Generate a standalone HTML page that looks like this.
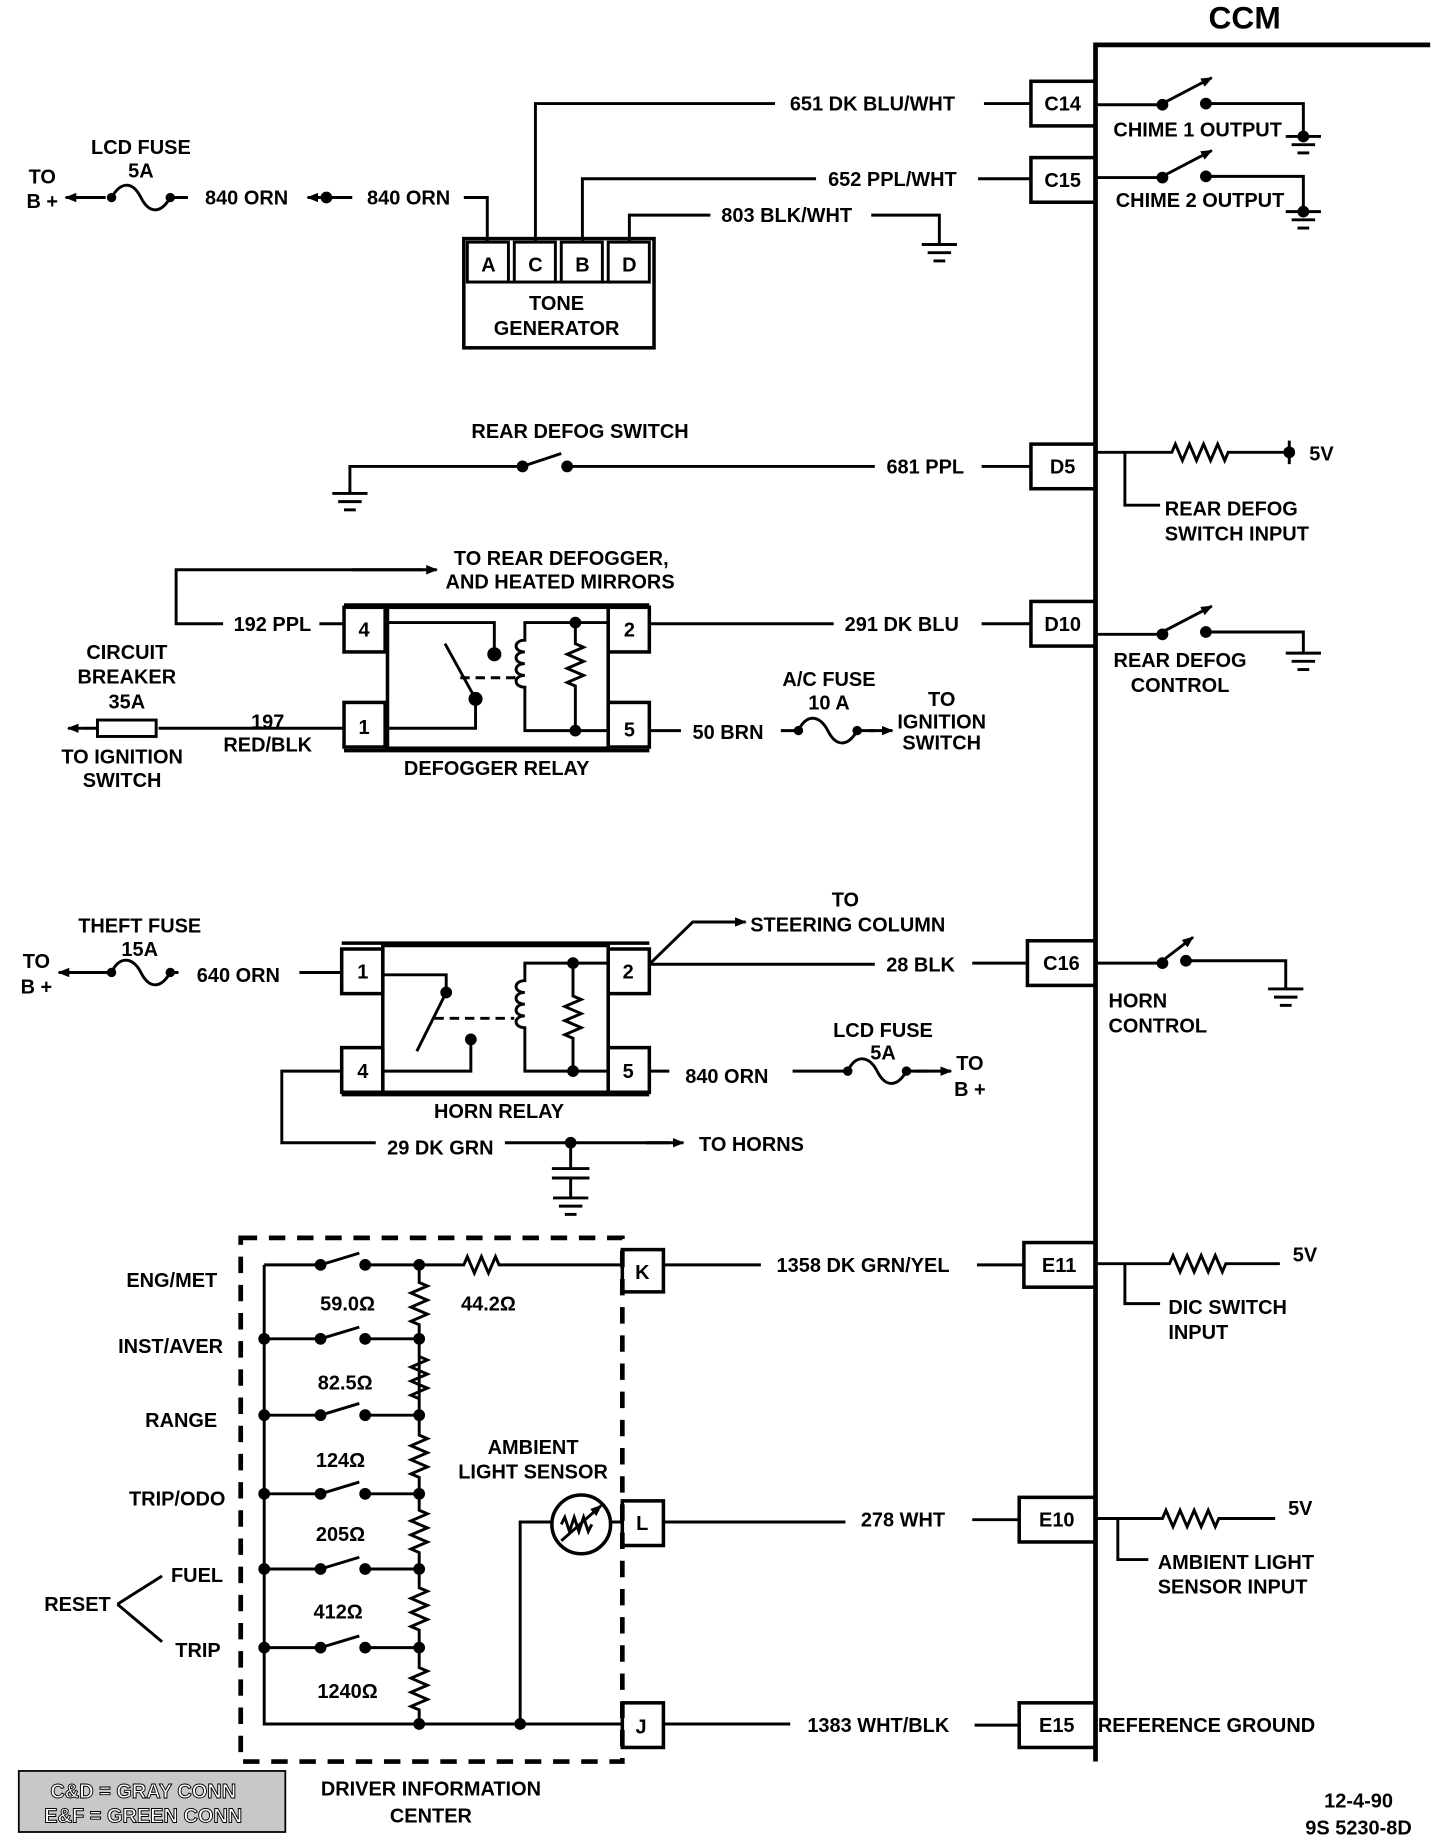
<!DOCTYPE html>
<html><head><meta charset="utf-8"><style>
html,body{margin:0;padding:0;background:#fff}
svg{display:block}
text{font-family:"Liberation Sans",sans-serif;font-weight:bold;font-size:17px;fill:#000}
.c{text-anchor:middle}.r{text-anchor:end}
</style></head><body>
<svg width="1456" height="1844" viewBox="0 0 1240 1570" xmlns="http://www.w3.org/2000/svg">
<defs>
<g id="gnd"><line x1="-15" y1="0" x2="15" y2="0" stroke="#000" stroke-width="2.5"/><line x1="-10" y1="7" x2="10" y2="7" stroke="#000" stroke-width="2.5"/><line x1="-5" y1="14" x2="5" y2="14" stroke="#000" stroke-width="2.5"/></g>
<marker id="ar" markerWidth="10" markerHeight="8" refX="9" refY="4" orient="auto" markerUnits="userSpaceOnUse"><path d="M0,0 L10,4 L0,8 z" fill="#000"/></marker>
</defs>
<g stroke="#000" stroke-width="2.5" fill="none">
<path d="M933,1500 V38 H1218" stroke-width="4"/>
<rect x="878" y="69" width="55" height="38" stroke-width="3"/>
<rect x="878" y="134" width="55" height="38" stroke-width="3"/>
<rect x="878" y="378" width="55" height="38" stroke-width="3"/>
<rect x="878" y="512" width="55" height="38" stroke-width="3"/>
<rect x="875" y="801" width="58" height="38" stroke-width="3"/>
<rect x="872" y="1058" width="61" height="38" stroke-width="3"/>
<rect x="868" y="1275" width="65" height="38" stroke-width="3"/>
<rect x="868" y="1450" width="65" height="38" stroke-width="3"/>
<path d="M838,88 H878 M833,152 H878 M836,397 H878 M836,531 H878 M828,820 H875 M832,1077 H872 M828,1294 H868 M830,1469 H868"/>
<!-- chime switches -->
<path d="M933,89 H990 M1027,88 H1110 V116"/>
<path d="M990,88 L1032,66" marker-end="url(#ar)"/>
<path d="M933,151 H990 M1027,150 H1110 V180"/>
<path d="M990,150 L1032,128" marker-end="url(#ar)"/>
<path d="M933,385 H998 l3,-7 l6,14 l6,-14 l6,14 l6,-14 l6,14 l6,-14 l6,14 l3,-7 H1098 M1098,375 V395"/>
<path d="M958,385 V430 H988"/>
<path d="M933,540 H990 M1027,538 H1110 V556"/>
<path d="M990,538 L1032,516" marker-end="url(#ar)"/>
<path d="M933,820 H990 M1010,818 H1095 V842"/>
<path d="M990,818 L1016,798" marker-end="url(#ar)"/>
<path d="M933,1076 H996 l3,-7 l6,14 l6,-14 l6,14 l6,-14 l6,14 l6,-14 l6,14 l3,-7 H1090"/>
<path d="M958,1076 V1110 H988"/>
<path d="M933,1293 H990 l3,-7 l6,14 l6,-14 l6,14 l6,-14 l6,14 l6,-14 l6,14 l3,-7 H1086"/>
<path d="M952,1293 V1328 H978"/>
<!-- tone generator -->
<rect x="395" y="203" width="162" height="93" stroke-width="3"/>
<rect x="398" y="206" width="35" height="34"/>
<rect x="438" y="206" width="35" height="34"/>
<rect x="478" y="206" width="35" height="34"/>
<rect x="518" y="206" width="35" height="34"/>
<path d="M398,240 H553"/>
<path d="M395,168 H415 V206 M456,206 V88 H660 M496,206 V152 H695 M536,206 V183 H605 M742,183 H800 V208"/>
<path d="M262,168 H300 M80,168 H90"/>
<path d="M80,168 H56" marker-end="url(#ar)"/>
<path d="M95,168 c8,-14 18,-14 25,0 c7,14 17,14 25,0 H160"/>
<path d="M275,168 H262" marker-end="url(#ar)"/>
<path d="M298,420 V397 H445 M445,397 L478,386 M483,397 H745"/>
<!-- defogger relay -->
<path d="M293,515 H553 M293,639 H553" stroke-width="3"/>
<rect x="330" y="517" width="188" height="120" stroke-width="3"/>
<rect x="293" y="517" width="35" height="38" stroke-width="3"/>
<rect x="518" y="517" width="35" height="38" stroke-width="3"/>
<rect x="293" y="598" width="35" height="38" stroke-width="3"/>
<rect x="518" y="598" width="35" height="38" stroke-width="3"/>
<path d="M330,530 H421 V557 M379,548 L405,595 M405,595 V620 H330"/>
<path d="M392,577 H440" stroke-dasharray="8,5"/>
<path d="M490,530 H447 V545 c-10,0 -10,10 0,10 c-10,0 -10,10 0,10 c-10,0 -10,10 0,10 c-10,0 -10,10 0,10 V622 H518 M490,530 H518 M490,530 V548 l7,3 l-14,6 l14,6 l-14,6 l14,6 l-14,6 l7,3 V622"/>
<path d="M293,531 H272 M190,531 H150 V485 H360" />
<path d="M300,485 H372" marker-end="url(#ar)"/>
<path d="M553,531 H710"/>
<path d="M293,620 H135 M83,620 H70"/>
<path d="M70,620 H58" marker-end="url(#ar)"/>
<rect x="83" y="613" width="50" height="14"/>
<path d="M553,622 H580 M665,622 H680 c6,-14 18,-14 25,0 c7,14 17,14 25,0 H745"/>
<path d="M740,622 H760" marker-end="url(#ar)"/>
<!-- horn relay -->
<path d="M291,803 H553 M291,932 H553" stroke-width="3"/>
<rect x="326" y="805" width="192" height="125" stroke-width="3"/>
<rect x="291" y="808" width="35" height="38" stroke-width="3"/>
<rect x="518" y="808" width="35" height="38" stroke-width="3"/>
<rect x="291" y="892" width="35" height="38" stroke-width="3"/>
<rect x="518" y="892" width="35" height="38" stroke-width="3"/>
<path d="M326,912 H401 V885 M380,845 L355,895 M380,845 V830 H326"/>
<path d="M370,867 H438" stroke-dasharray="8,5"/>
<path d="M488,820 H447 V835 c-10,0 -10,10 0,10 c-10,0 -10,10 0,10 c-10,0 -10,10 0,10 c-10,0 -10,10 0,10 V912 H518 M488,820 H518 M488,820 V848 l7,3 l-14,6 l14,6 l-14,6 l14,6 l-14,6 l7,3 V912"/>
<path d="M95,828 H80"/>
<path d="M90,828 H50" marker-end="url(#ar)"/>
<path d="M95,828 c6,-14 18,-14 25,0 c7,14 17,14 25,0 H152 M255,828 H291"/>
<path d="M553,821 H745 M553,821 L590,785 H625"/>
<path d="M600,785 H635" marker-end="url(#ar)"/>
<path d="M553,912 H570 M675,912 H722 c6,-14 18,-14 25,0 c7,14 17,14 25,0 H790"/>
<path d="M780,912 H810" marker-end="url(#ar)"/>
<path d="M291,912 H240 V973 H320 M430,973 H570"/>
<path d="M550,973 H582" marker-end="url(#ar)"/>
<path d="M486,973 V995 M470,995 H502 M470,1003 H502 M486,1003 V1020"/>
<!-- DIC -->
<rect x="205" y="1054" width="325" height="446" stroke-width="4" stroke-dasharray="14,10"/>
<rect x="530" y="1064" width="35" height="36" stroke-width="3"/>
<rect x="530" y="1278" width="35" height="38" stroke-width="3"/>
<rect x="530" y="1450" width="35" height="38" stroke-width="3"/>
<path d="M225,1077 V1468 H530"/>
<path d="M225,1077 H273 M273,1077 L306,1067 M311,1077 H395 l3,-7 l6,14 l6,-14 l6,14 l6,-14 l3,7 H530"/>
<path d="M225,1140 H273 M273,1140 L306,1130 M311,1140 H357"/>
<path d="M225,1205 H273 M273,1205 L306,1195 M311,1205 H357"/>
<path d="M225,1272 H273 M273,1272 L306,1262 M311,1272 H357"/>
<path d="M225,1336 H273 M273,1336 L306,1326 M311,1336 H357"/>
<path d="M225,1403 H273 M273,1403 L306,1393 M311,1403 H357"/>
<path d="M357,1077 V1092 l7,3 l-14,6 l14,6 l-14,6 l14,6 l-14,6 l7,3 V1205 V1155 l7,3 l-14,6 l14,6 l-14,6 l14,6 l-14,6 l7,3 V1205 V1222 l7,3 l-14,6 l14,6 l-14,6 l14,6 l-14,6 l7,3 V1272 V1286 l7,3 l-14,6 l14,6 l-14,6 l14,6 l-14,6 l7,3 V1336 V1352 l7,3 l-14,6 l14,6 l-14,6 l14,6 l-14,6 l7,3 V1403 V1420 l7,3 l-14,6 l14,6 l-14,6 l14,6 l-14,6 l7,3 V1468"/>
<circle cx="495" cy="1298" r="25" stroke-width="3"/>
<path d="M443,1468 V1296 H470 M520,1296 H530 M478,1298 l3,-6 l4,12 l4,-12 l4,12 l4,-12 l4,12 l3,-6"/>
<path d="M478,1312 L512,1282" marker-end="url(#ar)"/>
<path d="M565,1077 H648 M565,1296 H720 M565,1468 H673"/>
<path d="M100,1366 L138,1342 M100,1366 L138,1398"/>
</g>
<use href="#gnd" x="1110" y="116"/><use href="#gnd" x="1110" y="180"/><use href="#gnd" x="800" y="208"/>
<use href="#gnd" x="298" y="420"/><use href="#gnd" x="1110" y="556"/><use href="#gnd" x="1095" y="842"/><use href="#gnd" x="486" y="1020"/>
<g fill="#000">
<circle cx="990" cy="89" r="5"/><circle cx="1027" cy="88" r="5"/><circle cx="1110" cy="116" r="5"/>
<circle cx="990" cy="151" r="5"/><circle cx="1027" cy="150" r="5"/><circle cx="1110" cy="180" r="5"/>
<circle cx="990" cy="540" r="5"/><circle cx="1027" cy="538" r="5"/>
<circle cx="990" cy="820" r="5"/><circle cx="1010" cy="818" r="5"/>
<circle cx="1098" cy="385" r="5"/>
<circle cx="445" cy="397" r="5"/><circle cx="483" cy="397" r="5"/>
<circle cx="278" cy="168" r="5"/><circle cx="95" cy="168" r="4"/><circle cx="145" cy="168" r="4"/>
<circle cx="421" cy="557" r="6"/><circle cx="405" cy="595" r="6"/><circle cx="490" cy="530" r="5"/><circle cx="490" cy="622" r="5"/>
<circle cx="680" cy="622" r="4"/><circle cx="730" cy="622" r="4"/>
<circle cx="401" cy="885" r="5"/><circle cx="380" cy="845" r="5"/><circle cx="488" cy="820" r="5"/><circle cx="488" cy="912" r="5"/>
<circle cx="95" cy="828" r="4"/><circle cx="145" cy="828" r="4"/><circle cx="722" cy="912" r="4"/><circle cx="772" cy="912" r="4"/>
<circle cx="486" cy="973" r="5"/>
<circle cx="273" cy="1077" r="5"/><circle cx="311" cy="1077" r="5"/><circle cx="357" cy="1077" r="5"/>
<circle cx="225" cy="1140" r="5"/><circle cx="273" cy="1140" r="5"/><circle cx="311" cy="1140" r="5"/><circle cx="357" cy="1140" r="5"/>
<circle cx="225" cy="1205" r="5"/><circle cx="273" cy="1205" r="5"/><circle cx="311" cy="1205" r="5"/><circle cx="357" cy="1205" r="5"/>
<circle cx="225" cy="1272" r="5"/><circle cx="273" cy="1272" r="5"/><circle cx="311" cy="1272" r="5"/><circle cx="357" cy="1272" r="5"/>
<circle cx="225" cy="1336" r="5"/><circle cx="273" cy="1336" r="5"/><circle cx="311" cy="1336" r="5"/><circle cx="357" cy="1336" r="5"/>
<circle cx="225" cy="1403" r="5"/><circle cx="273" cy="1403" r="5"/><circle cx="311" cy="1403" r="5"/><circle cx="357" cy="1403" r="5"/>
<circle cx="357" cy="1468" r="5"/><circle cx="443" cy="1468" r="5"/>
</g>
<text x="1060" y="24" class="c" style="font-size:27px">CCM</text>
<text x="905" y="94" class="c">C14</text><text x="905" y="159" class="c">C15</text>
<text x="905" y="403" class="c">D5</text><text x="905" y="537" class="c">D10</text>
<text x="904" y="826" class="c">C16</text><text x="902" y="1083" class="c">E11</text>
<text x="900" y="1300" class="c">E10</text><text x="900" y="1475" class="c">E15</text>
<text x="1020" y="116" class="c">CHIME 1 OUTPUT</text>
<text x="1022" y="176" class="c">CHIME 2 OUTPUT</text>
<text x="1115" y="392">5V</text>
<text x="992" y="439">REAR DEFOG</text><text x="992" y="460">SWITCH INPUT</text>
<text x="1005" y="568" class="c">REAR DEFOG</text><text x="1005" y="589" class="c">CONTROL</text>
<text x="944" y="858">HORN</text><text x="944" y="879">CONTROL</text>
<text x="1101" y="1074">5V</text>
<text x="995" y="1119">DIC SWITCH</text><text x="995" y="1140">INPUT</text>
<text x="1097" y="1290">5V</text>
<text x="986" y="1336">AMBIENT LIGHT</text><text x="986" y="1357">SENSOR INPUT</text>
<text x="935" y="1475">REFERENCE GROUND</text>
<text x="743" y="94" class="c">651 DK BLU/WHT</text>
<text x="760" y="158" class="c">652 PPL/WHT</text>
<text x="670" y="189" class="c">803 BLK/WHT</text>
<text x="416" y="231" class="c">A</text><text x="456" y="231" class="c">C</text><text x="496" y="231" class="c">B</text><text x="536" y="231" class="c">D</text>
<text x="474" y="264" class="c">TONE</text><text x="474" y="285" class="c">GENERATOR</text>
<text x="120" y="131" class="c">LCD FUSE</text><text x="120" y="151" class="c">5A</text>
<text x="36" y="156" class="c">TO</text><text x="36" y="177" class="c">B +</text>
<text x="210" y="174" class="c">840 ORN</text><text x="348" y="174" class="c">840 ORN</text>
<text x="494" y="373" class="c">REAR DEFOG SWITCH</text>
<text x="788" y="403" class="c">681 PPL</text>
<text x="478" y="481" class="c">TO REAR DEFOGGER,</text><text x="477" y="501" class="c">AND HEATED MIRRORS</text>
<text x="232" y="537" class="c">192 PPL</text>
<text x="310" y="542" class="c">4</text><text x="536" y="542" class="c">2</text><text x="310" y="625" class="c">1</text><text x="536" y="627" class="c">5</text>
<text x="768" y="537" class="c">291 DK BLU</text>
<text x="108" y="561" class="c">CIRCUIT</text><text x="108" y="582" class="c">BREAKER</text><text x="108" y="603" class="c">35A</text>
<text x="104" y="650" class="c">TO IGNITION</text><text x="104" y="670" class="c">SWITCH</text>
<text x="228" y="620" class="c">197</text><text x="228" y="640" class="c">RED/BLK</text>
<text x="423" y="660" class="c">DEFOGGER RELAY</text>
<text x="620" y="629" class="c">50 BRN</text>
<text x="706" y="584" class="c">A/C FUSE</text><text x="706" y="604" class="c">10 A</text>
<text x="802" y="601" class="c">TO</text><text x="802" y="620" class="c">IGNITION</text><text x="802" y="638" class="c">SWITCH</text>
<text x="119" y="794" class="c">THEFT FUSE</text><text x="119" y="814" class="c">15A</text>
<text x="31" y="824" class="c">TO</text><text x="31" y="846" class="c">B +</text>
<text x="203" y="836" class="c">640 ORN</text>
<text x="309" y="833" class="c">1</text><text x="535" y="833" class="c">2</text><text x="309" y="918" class="c">4</text><text x="535" y="918" class="c">5</text>
<text x="720" y="772" class="c">TO</text><text x="722" y="793" class="c">STEERING COLUMN</text>
<text x="784" y="827" class="c">28 BLK</text>
<text x="425" y="952" class="c">HORN RELAY</text>
<text x="619" y="922" class="c">840 ORN</text>
<text x="752" y="883" class="c">LCD FUSE</text><text x="752" y="902" class="c">5A</text>
<text x="826" y="911" class="c">TO</text><text x="826" y="933" class="c">B +</text>
<text x="375" y="983" class="c">29 DK GRN</text>
<text x="640" y="980" class="c">TO HORNS</text>
<text x="547" y="1089" class="c">K</text><text x="547" y="1303" class="c">L</text><text x="546" y="1476" class="c">J</text>
<text x="735" y="1083" class="c">1358 DK GRN/YEL</text>
<text x="769" y="1300" class="c">278 WHT</text>
<text x="748" y="1475" class="c">1383 WHT/BLK</text>
<text x="185" y="1096" class="r">ENG/MET</text>
<text x="190" y="1152" class="r">INST/AVER</text>
<text x="185" y="1215" class="r">RANGE</text>
<text x="192" y="1282" class="r">TRIP/ODO</text>
<text x="190" y="1347" class="r">FUEL</text>
<text x="188" y="1411" class="r">TRIP</text>
<text x="66" y="1372" class="c">RESET</text>
<text x="296" y="1116" class="c">59.0Ω</text><text x="416" y="1116" class="c">44.2Ω</text>
<text x="294" y="1183" class="c">82.5Ω</text><text x="290" y="1249" class="c">124Ω</text>
<text x="290" y="1312" class="c">205Ω</text><text x="288" y="1378" class="c">412Ω</text>
<text x="296" y="1446" class="c">1240Ω</text>
<text x="454" y="1238" class="c">AMBIENT</text><text x="454" y="1259" class="c">LIGHT SENSOR</text>
<rect x="16" y="1508" width="227" height="52" fill="#c8c8c8" stroke="#000" stroke-width="1.5"/>
<text x="122" y="1531" class="c" style="fill:#fff;stroke:#000;stroke-width:0.8">C&amp;D = GRAY CONN</text>
<text x="122" y="1552" class="c" style="fill:#fff;stroke:#000;stroke-width:0.8">E&amp;F = GREEN CONN</text>
<text x="367" y="1529" class="c">DRIVER INFORMATION</text><text x="367" y="1552" class="c">CENTER</text>
<text x="1157" y="1539" class="c">12-4-90</text><text x="1157" y="1562" class="c">9S 5230-8D</text>
</svg>
</body></html>
